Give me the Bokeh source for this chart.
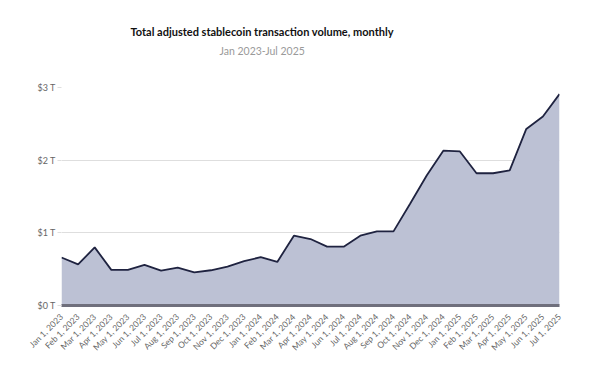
import math
from bokeh.plotting import figure
from bokeh.models import Range1d, FixedTicker, Title, ColumnDataSource
from bokeh.embed import file_html
from bokeh.resources import INLINE

months = ["Jan 1, 2023", "Feb 1, 2023", "Mar 1, 2023", "Apr 1, 2023", "May 1, 2023",
          "Jun 1, 2023", "Jul 1, 2023", "Aug 1, 2023", "Sep 1, 2023", "Oct 1, 2023",
          "Nov 1, 2023", "Dec 1, 2023", "Jan 1, 2024", "Feb 1, 2024", "Mar 1, 2024",
          "Apr 1, 2024", "May 1, 2024", "Jun 1, 2024", "Jul 1, 2024", "Aug 1, 2024",
          "Sep 1, 2024", "Oct 1, 2024", "Nov 1, 2024", "Dec 1, 2024", "Jan 1, 2025",
          "Feb 1, 2025", "Mar 1, 2025", "Apr 1, 2025", "May 1, 2025", "Jun 1, 2025",
          "Jul 1, 2025"]
# volume in trillions USD
volume = [0.66, 0.565, 0.80, 0.49, 0.49, 0.56, 0.48, 0.52, 0.455, 0.485,
          0.535, 0.61, 0.665, 0.60, 0.96, 0.915, 0.81, 0.81, 0.96, 1.02,
          1.02, 1.40, 1.79, 2.13, 2.12, 1.82, 1.82, 1.86, 2.43, 2.60, 2.91]
y_ticks = [0, 1, 2, 3]
y_labels = ["$0 T", "$1 T", "$2 T", "$3 T"]

idx = list(range(len(months)))
src = ColumnDataSource(dict(x=idx, y=volume, base=[0] * len(idx)))

FONT = "Lato"

p = figure(width=584, height=374, output_backend="svg", toolbar_location=None,
           x_range=Range1d(0, len(months) - 1), y_range=Range1d(0, 3),
           min_border_left=61, min_border_right=25, min_border_bottom=69,
           min_border_top=87,
           title="Total adjusted stablecoin transaction volume, monthly")
p.title.align = "left"
p.title.offset = 69
p.title.text_font = FONT
p.title.text_font_style = "bold"
p.title.text_font_size = "11px"
p.title.text_color = "#111111"
p.title.standoff = 9
# spacer between the plot area and the subtitle
p.add_layout(Title(text=" ", text_font_size="1px", standoff=28), "above")
p.add_layout(Title(text="Jan 2023-Jul 2025", align="left", offset=158,
                   text_font=FONT, text_font_style="normal",
                   text_font_size="10.5px", text_color="#9a9a9a", standoff=0), "above")

p.varea(x="x", y1="base", y2="y", source=src, fill_color="#bcc1d4", fill_alpha=1)
p.line(x="x", y="y", source=src, line_color="#1f2340", line_width=1.8)

p.outline_line_color = None
p.background_fill_color = "white"
p.border_fill_color = "white"

p.xgrid.grid_line_color = None
p.ygrid.grid_line_color = "#dedede"
p.ygrid.grid_line_width = 1

p.yaxis.ticker = FixedTicker(ticks=y_ticks)
p.yaxis.major_label_overrides = {t: l for t, l in zip(y_ticks, y_labels)}
p.yaxis.axis_line_color = None
p.yaxis.major_tick_line_color = "#dedede"
p.yaxis.major_tick_out = 4
p.yaxis.major_tick_in = 0
p.yaxis.minor_tick_line_color = None
p.yaxis.major_label_standoff = 2
p.yaxis.major_label_text_font = FONT
p.yaxis.major_label_text_font_size = "9px"
p.yaxis.major_label_text_color = "#666666"

p.xaxis.ticker = FixedTicker(ticks=idx)
p.xaxis.major_label_overrides = {i: m for i, m in zip(idx, months)}
p.xaxis.major_label_orientation = math.pi / 4
p.xaxis.axis_line_color = "#6f6f7c"
p.xaxis.axis_line_width = 3
p.xaxis.major_tick_line_color = None
p.xaxis.minor_tick_line_color = None
p.xaxis.major_label_standoff = 4
p.xaxis.major_label_text_font = FONT
p.xaxis.major_label_text_font_size = "8.5px"
p.xaxis.major_label_text_color = "#666666"

open("out.html", "w").write(file_html(p, INLINE))
